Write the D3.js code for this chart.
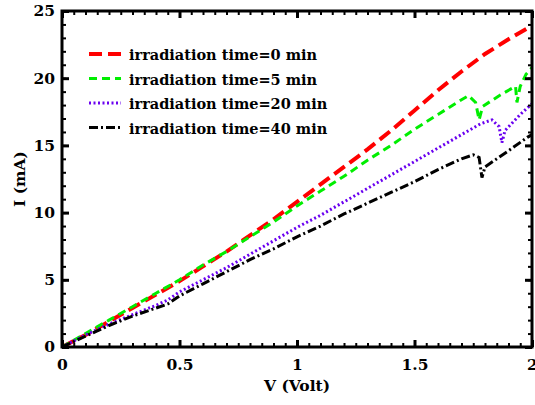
<!DOCTYPE html>
<html>
<head>
<meta charset="utf-8">
<script src="https://cdn.jsdelivr.net/npm/d3@7"></script>
<style>
  body { margin: 0; background: #fff; }
  text { font-family: "DejaVu Serif", "Liberation Serif", serif; font-weight: bold; fill: #000; }
</style>
</head>
<body>
<div class="container"></div>
<script>
(function(){

// voltage / current readings for each irradiation time
var v0 = [0, 0.1, 0.2, 0.3, 0.4, 0.5, 0.6, 0.7, 0.8, 0.9, 1.0, 1.1, 1.2, 1.3, 1.4, 1.5, 1.6, 1.7, 1.8, 1.9, 2.0];
var i0 = [0, 0.9, 1.9, 2.9, 3.9, 4.9, 6.0, 7.1, 8.3, 9.5, 10.8, 12.1, 13.4, 14.7, 16.1, 17.6, 19.1, 20.5, 21.8, 22.9, 23.9];

var v5 = [0, 0.1, 0.2, 0.3, 0.4, 0.5, 0.6, 0.7, 0.8, 0.9, 1.0, 1.1, 1.2, 1.3, 1.4, 1.5, 1.6, 1.7, 1.73, 1.76, 1.775, 1.79, 1.865, 1.93, 1.936, 1.95, 1.975, 2.0];
var i5 = [0, 1.0, 2.0, 3.0, 4.0, 5.0, 6.1, 7.1, 8.2, 9.3, 10.5, 11.6, 12.7, 13.9, 15.0, 16.2, 17.3, 18.4, 18.7, 18.2, 16.9, 17.9, 18.75, 19.4, 18.2, 19.4, 20.3, 20.8];

var v20 = [0, 0.1, 0.2, 0.3, 0.4, 0.45, 0.5, 0.6, 0.7, 0.8, 0.9, 1.0, 1.1, 1.2, 1.3, 1.4, 1.5, 1.6, 1.7, 1.78, 1.83, 1.86, 1.872, 1.885, 1.95, 2.0];
var i20 = [0, 0.9, 1.7, 2.4, 3.1, 3.5, 4.1, 5.0, 5.9, 6.9, 7.9, 8.9, 9.8, 10.8, 11.8, 12.8, 13.8, 14.8, 15.8, 16.6, 16.9, 16.4, 15.2, 16.1, 17.3, 18.1];

var v40 = [0, 0.1, 0.2, 0.3, 0.4, 0.45, 0.5, 0.6, 0.7, 0.8, 0.9, 1.0, 1.1, 1.2, 1.3, 1.4, 1.5, 1.6, 1.7, 1.75, 1.775, 1.787, 1.8, 1.9, 1.98, 2.0];
var i40 = [0, 0.8, 1.6, 2.3, 2.9, 3.2, 3.8, 4.7, 5.6, 6.5, 7.3, 8.2, 9.0, 9.9, 10.7, 11.5, 12.3, 13.2, 14.0, 14.3, 14.1, 12.6, 13.4, 14.6, 15.6, 15.8];

var seriesNames = ["irradiation time=0 min", "irradiation time=5 min", "irradiation time=20 min", "irradiation time=40 min"];
var xTicks = [0, 0.5, 1, 1.5, 2];
var yTicks = [0, 5, 10, 15, 20, 25];

var styles = [
  {color: "#ff0000", width: 4, dash: "13,6"},
  {color: "#00ee00", width: 3, dash: "8,5"},
  {color: "#6a00f0", width: 3, dash: "2,2.5"},
  {color: "#000000", width: 3, dash: "9,3,2,3"}
];

var width = 535, height = 405,
    left = 62, right = 532, top = 11, bottom = 347;

var x = d3.scaleLinear().domain([0, 2]).range([left, right]);
var y = d3.scaleLinear().domain([0, 25]).range([bottom, top]);

var svg = d3.select(".container")
  .append("svg")
  .attr("width", width)
  .attr("height", height);

var series = [[v0, i0], [v5, i5], [v20, i20], [v40, i40]].map(function(s){
  return s[0].map(function(v, k){ return [v, s[1][k]]; });
});

var line = d3.line()
  .x(function(d){ return x(d[0]); })
  .y(function(d){ return y(d[1]); });

svg.append("clipPath").attr("id", "clip")
  .append("rect")
  .attr("x", left).attr("y", top)
  .attr("width", right - left).attr("height", bottom - top);

svg.selectAll(".curve")
  .data(series)
  .enter()
  .append("path")
  .attr("class", "curve")
  .attr("clip-path", "url(#clip)")
  .attr("d", line)
  .attr("fill", "none")
  .attr("stroke", function(d, k){ return styles[k].color; })
  .attr("stroke-width", function(d, k){ return styles[k].width; })
  .attr("stroke-dasharray", function(d, k){ return styles[k].dash; });

// axes: inward ticks on all four sides
function tickAxis(axisFn, scale, major, minorStep, transform, showLabels){
  var minor = d3.range(scale.domain()[0], scale.domain()[1] + 1e-9, minorStep);
  svg.append("g")
    .attr("transform", transform)
    .call(axisFn(scale).tickValues(minor).tickSize(-4).tickFormat(""))
    .call(function(g){
      g.select(".domain").remove();
      g.selectAll("line").attr("stroke-width", 2);
    });
  var g = svg.append("g")
    .attr("transform", transform)
    .call(axisFn(scale).tickValues(major).tickSize(-7).tickPadding(12)
      .tickFormat(showLabels ? d3.format("") : ""));
  g.select(".domain").remove();
  g.selectAll("line").attr("stroke-width", 3);
  g.selectAll("text").attr("font-size", 15.5);
  return g;
}

tickAxis(d3.axisBottom, x, xTicks, 0.05, "translate(0," + bottom + ")", true);
tickAxis(d3.axisTop, x, xTicks, 0.05, "translate(0," + top + ")", false);
tickAxis(d3.axisLeft, y, yTicks, 1, "translate(" + left + ",0)", true)
  .selectAll("text").attr("dx", 5);
tickAxis(d3.axisRight, y, yTicks, 1, "translate(" + right + ",0)", false);

svg.append("rect")
  .attr("x", left).attr("y", top)
  .attr("width", right - left).attr("height", bottom - top)
  .attr("fill", "none")
  .attr("stroke", "#000")
  .attr("stroke-width", 3);

// axis titles
svg.append("text")
  .attr("x", (left + right) / 2)
  .attr("y", 391)
  .attr("text-anchor", "middle")
  .attr("font-size", 15.5)
  .text("V (Volt)");

svg.append("text")
  .attr("transform", "translate(25," + ((top + bottom) / 2) + ") rotate(-90)")
  .attr("text-anchor", "middle")
  .attr("font-size", 15.5)
  .text("I (mA)");

// legend
var legend = svg.selectAll(".legend")
  .data(seriesNames)
  .enter()
  .append("g")
  .attr("class", "legend")
  .attr("transform", function(d, k){ return "translate(89," + (54 + k * 24.5) + ")"; });

legend.append("line")
  .attr("x1", 0).attr("x2", 32)
  .attr("stroke", function(d, k){ return styles[k].color; })
  .attr("stroke-width", function(d, k){ return styles[k].width; })
  .attr("stroke-dasharray", function(d, k){ return styles[k].dash; });

legend.append("text")
  .attr("x", 40)
  .attr("y", 6)
  .attr("font-size", 14.5)
  .text(function(d){ return d; });

})();
</script>
</body>
</html>
